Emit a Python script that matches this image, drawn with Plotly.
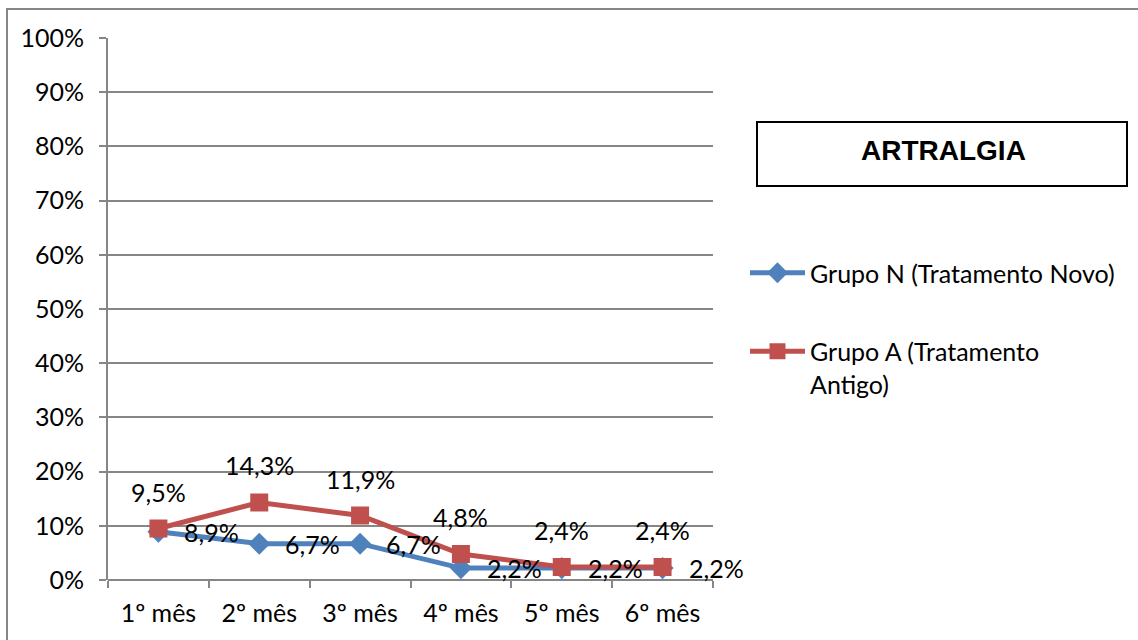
import plotly.graph_objects as go

# Categories and series values (fractions)
meses = ["1º mês", "2º mês", "3º mês", "4º mês", "5º mês", "6º mês"]
grupo_n = [0.089, 0.067, 0.067, 0.022, 0.022, 0.022]
grupo_a = [0.095, 0.143, 0.119, 0.048, 0.024, 0.024]
nome_n = "Grupo N (Tratamento Novo)"
nome_a = "Grupo A (Tratamento<br>Antigo)"
titulo = "ARTRALGIA"

W, H = 1138, 640
ML, MR, MT, MB = 108, 425, 38, 60

FONT = "Lato"
FS = 25
AZUL = "#4F81BD"
VERMELHO = "#C0504D"
CINZA = "#868686"


def pct(v):
    return f"{v * 100:.1f}%".replace(".", ",")


fig = go.Figure()
fig.add_trace(go.Scatter(
    x=meses, y=grupo_n, name=nome_n, mode="lines+markers",
    line=dict(color=AZUL, width=5),
    marker=dict(symbol="diamond", size=17, color=AZUL),
    legendgroup="n",
))
fig.add_trace(go.Scatter(
    x=meses, y=grupo_a, name=nome_a, mode="lines+markers",
    line=dict(color=VERMELHO, width=5),
    marker=dict(symbol="square", size=18, color=VERMELHO),
    legendgroup="a",
))

anns = []
for m, v in zip(meses, grupo_n):
    anns.append(dict(x=m, y=v, text=pct(v), showarrow=False, xanchor="left",
                     yanchor="middle", xshift=24, font=dict(family=FONT, size=FS, color="black")))
for m, v in zip(meses, grupo_a):
    anns.append(dict(x=m, y=v, text=pct(v), showarrow=False, xanchor="center",
                     yanchor="middle", yshift=37, font=dict(family=FONT, size=FS, color="black")))

pw = W - ML - MR
ph = H - MT - MB


def px(x):
    return (x - ML) / pw


def py(y):
    return (H - MB - y) / ph


# Title box
anns.append(dict(xref="paper", yref="paper", x=px(943), y=py(151), text=f"<b>{titulo}</b>",
                 showarrow=False, xanchor="center", yanchor="middle",
                 font=dict(family="Liberation Sans", size=28, color="black")))

shapes = [
    dict(type="rect", xref="paper", yref="paper", x0=px(7), x1=px(1145), y0=py(9), y1=py(650),
         line=dict(color=CINZA, width=2), fillcolor="rgba(0,0,0,0)", layer="below"),
    dict(type="rect", xref="paper", yref="paper", x0=px(757), x1=px(1127), y0=py(122), y1=py(186),
         line=dict(color="black", width=2), fillcolor="white"),
]

fig.update_layout(
    width=W, height=H,
    margin=dict(l=ML, r=MR, t=MT, b=MB),
    paper_bgcolor="white", plot_bgcolor="white",
    font=dict(family=FONT, size=FS, color="black"),
    showlegend=True,
    legend=dict(x=px(745), y=py(250), xanchor="left", yanchor="top",
                font=dict(family=FONT, size=FS, color="black"),
                tracegroupgap=43, valign="top", itemwidth=55,
                bgcolor="rgba(0,0,0,0)"),
    annotations=anns,
    shapes=shapes,
    xaxis=dict(type="category", range=[-0.5, 5.5], showgrid=False,
               showline=False, ticks="outside", tickson="boundaries",
               ticklen=7, tickcolor=CINZA, tickwidth=2, ticklabelstandoff=16,
               tickfont=dict(family=FONT, size=FS)),
    yaxis=dict(range=[0, 1], dtick=0.1, tickformat=".0%", showgrid=True,
               gridcolor=CINZA, gridwidth=2, showline=True, linecolor=CINZA, linewidth=2,
               ticks="outside", ticklen=7, tickcolor=CINZA, tickwidth=2, ticklabelstandoff=10,
               zeroline=True, zerolinecolor=CINZA, zerolinewidth=2,
               tickfont=dict(family=FONT, size=FS)),
)

fig.write_html("out.html")
